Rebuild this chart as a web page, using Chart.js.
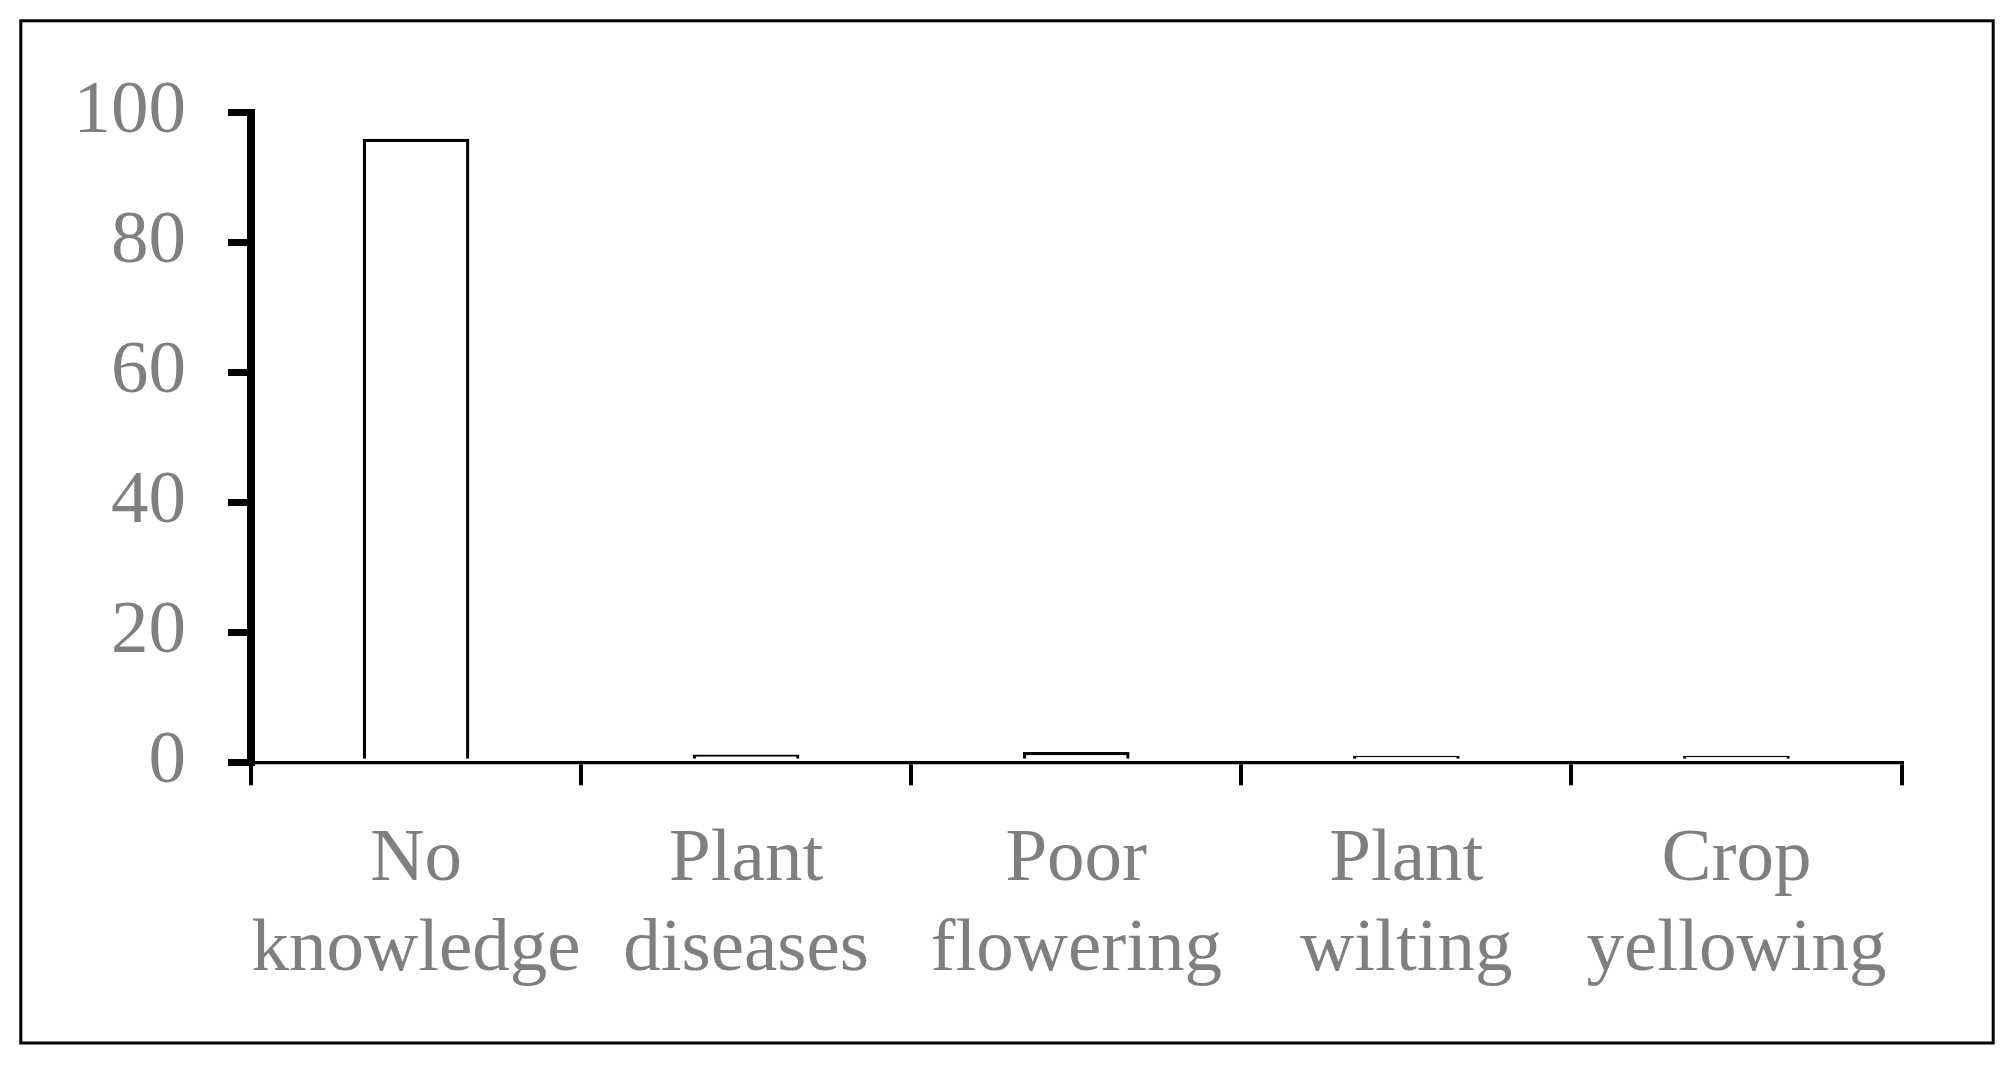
<!DOCTYPE html>
<html>
<head>
<meta charset="utf-8">
<script src="https://cdn.jsdelivr.net/npm/chart.js@4.4.1/dist/chart.umd.min.js"></script>
<style>
  html, body { margin: 0; padding: 0; background: #ffffff; }
  #wrap { position: relative; width: 2016px; height: 1067px; }
</style>
</head>
<body>
<div id="wrap"><canvas id="c" width="2016" height="1067"></canvas></div>
<script>
// ---- data ----
const categories = [["No", "knowledge"], ["Plant", "diseases"], ["Poor", "flowering"], ["Plant", "wilting"], ["Crop", "yellowing"]];
const values = [96, 1.2, 1.6, 1.0, 1.0];
const yTicks = [0, 20, 40, 60, 80, 100];

const frame = {
  id: 'frame',
  beforeDraw(chart) {
    const ctx = chart.ctx;
    ctx.save();
    ctx.fillStyle = '#ffffff';
    ctx.fillRect(0, 0, chart.width, chart.height);
    ctx.strokeStyle = '#000000';
    ctx.lineWidth = 3;
    ctx.strokeRect(20.8, 20.8, 1972.4, 1022.2);
    ctx.restore();
  }
};

const YFONT = { family: '"Liberation Serif", "Times New Roman", serif', size: 75, lineHeight: 1.2 };
const XFONT = { family: '"Liberation Serif", "Times New Roman", serif', size: 75, lineHeight: 1.2 };

new Chart(document.getElementById('c'), {
  type: 'bar',
  data: {
    labels: categories,
    datasets: [{
      data: values,
      backgroundColor: '#ffffff',
      borderColor: '#000000',
      borderWidth: 3.3,
      borderSkipped: 'start',
      categoryPercentage: 1.0,
      barPercentage: 0.323
    }]
  },
  plugins: [frame],
  options: {
    responsive: false,
    animation: false,
    devicePixelRatio: 1,
    layout: { padding: { left: 0, right: 114.5, top: 112.7, bottom: 0 } },
    plugins: { legend: { display: false }, tooltip: { enabled: false }, title: { display: false } },
    scales: {
      x: {
        grid: { display: true, offset: true, drawOnChartArea: false, drawTicks: true, tickLength: 23, color: '#000000', lineWidth: 4 },
        border: { display: true, color: '#000000', width: 3.3 },
        ticks: { color: '#7f7f7f', font: XFONT, padding: 30, maxRotation: 0, autoSkip: false },
        afterFit(scale) { scale.height = 1067 - 762.3; }
      },
      y: {
        min: 0, max: 100,
        afterBuildTicks(scale) { scale.ticks = yTicks.map(v => ({ value: v })); },
        grid: { display: true, drawOnChartArea: false, drawTicks: true, tickLength: 23, color: '#000000', lineWidth: 7 },
        border: { display: true, color: '#000000', width: 8 },
        ticks: { color: '#7f7f7f', font: YFONT, padding: 42 },
        afterFit(scale) { scale.width = 251; }
      }
    }
  }
});
</script>
</body>
</html>
